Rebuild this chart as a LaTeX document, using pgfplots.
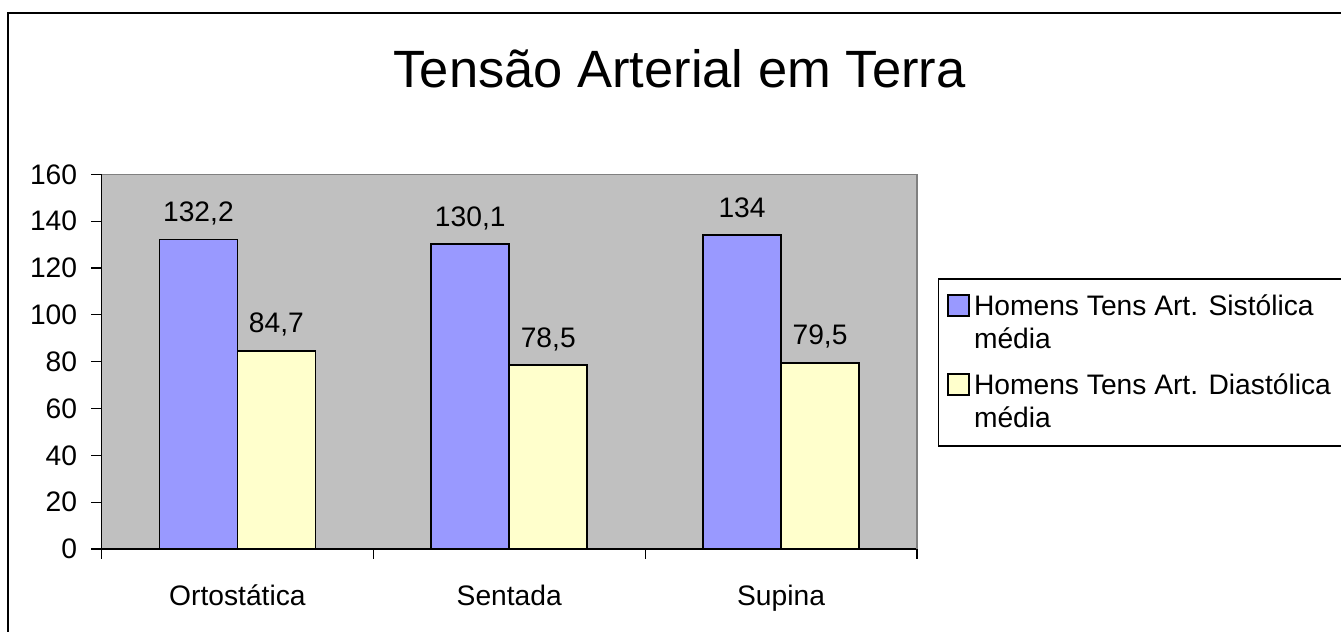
\documentclass[border=0pt]{standalone}
\usepackage{fontspec}
\setmainfont{Liberation Sans}
\usepackage{pgfplots}
\pgfplotsset{compat=1.18}
\definecolor{bgc}{HTML}{C0C0C0}
\definecolor{sis}{HTML}{9999FF}
\definecolor{dia}{HTML}{FFFFCC}
\definecolor{frm}{HTML}{808080}
\newcommand\cf{\fontsize{14.1}{16.5}\selectfont}
\pgfplotsset{sqlegend/.style={legend image code/.code={\draw[##1] (0pt,0pt) rectangle (10.3pt,10.3pt);}}}
\begin{document}
\begin{tikzpicture}[x=1pt,y=1pt]
\draw[line width=1pt] (4,-10) rectangle (690,309.5);
\node[anchor=base, inner sep=0pt, font=\fontsize{26.25}{30}\selectfont] at (339.75,272.35) {Tensão Arterial em Terra};
\begin{axis}[
  at={(50.75pt,41.5pt)}, anchor=south west,
  scale only axis, width=407.75pt, height=187.35pt,
  ybar=0pt, bar width=39pt,
  xmin=-0.5, xmax=2.5, ymin=0, ymax=160,
  clip=false,
  axis x line*=bottom, axis y line*=left,
  axis line style={black, line width=0.6pt},
  axis background/.style={fill=bgc},
  tick align=outside, major tick length=5pt,
  tick style={black, line width=0.6pt},
  ytick={0,20,...,160},
  xtick={-0.5,0.5,1.5,2.5}, xticklabels={},
  extra x ticks={0,1,2},
  extra x tick labels={Ortostática,Sentada,Supina},
  extra x tick style={major tick length=0pt, xticklabel style={anchor=base, yshift=-28.5pt}},
  tick label style={font=\cf},
  yticklabel style={inner sep=0pt, xshift=-7pt},
  /pgf/number format/.cd, use comma, precision=1, assume math mode=true, 1000 sep={},
  /pgfplots/.cd,
  nodes near coords,
  every node near coord/.append style={font=\cf, anchor=base, inner sep=0pt, yshift=9pt, black},
  sqlegend,
  legend style={at={(1.0261,0.7224)}, anchor=north west, draw=black, line width=0.6pt, fill=white,
    font=\cf, inner xsep=4.2pt, inner ysep=4.25pt, row sep=6.5pt, column sep=2.2pt,
    nodes={inner sep=0pt, text depth=}, cells={anchor=base west}},
  after end axis/.code={\draw[frm, line width=0.6pt] (rel axis cs:0,1) -- (rel axis cs:1,1) -- (rel axis cs:1,0);},
]
\addplot[fill=sis, draw=black, line width=0.9pt]
  coordinates {(0,132.2) (1,130.1) (2,134)};
\addlegendentry{\begin{tabular}[t]{@{}l@{\hspace{50pt}}}\rule{0pt}{14.1pt}Homens Tens Art. Sistólica\\média\end{tabular}}
\addplot[fill=dia, draw=black, line width=0.9pt]
  coordinates {(0,84.7) (1,78.5) (2,79.5)};
\addlegendentry{\begin{tabular}[t]{@{}l@{\hspace{50pt}}}Homens Tens Art. Diastólica\\média\end{tabular}}
\end{axis}
\pgfresetboundingbox
\useasboundingbox (0,0) rectangle (670.5,316);
\end{tikzpicture}
\end{document}
